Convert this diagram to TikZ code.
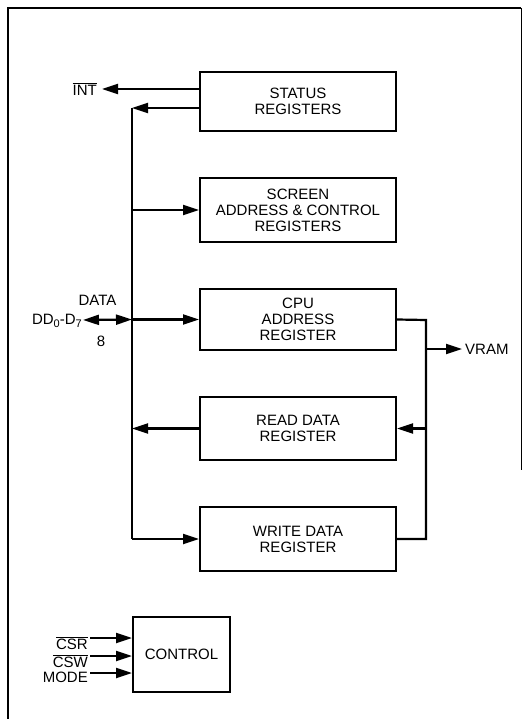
\documentclass[tikz,border=0pt]{standalone}
\usepackage{fontspec}
\setmainfont{Liberation Sans}
\usetikzlibrary{arrows.meta}
\begin{document}
\begin{tikzpicture}[x=1pt,y=-1pt,
  txt/.style={font=\fontsize{15}{16}\selectfont, inner sep=0pt, align=center},
  reg/.style={draw, line width=2pt, txt, minimum width=196pt},
  wire/.style={line width=2.2pt},
  tip/.tip={Triangle[length=16pt,width=10pt]},
  arr/.style={wire, -tip},
  darr/.style={wire, tip-tip}]
\useasboundingbox (0,0) rectangle (523,719);
% frame
\draw[line width=2.4pt] (8,719) -- (8,8) -- (521,8);
\draw[line width=1pt] (521,8) -- (521,470);
% registers
\node[reg, minimum height=59pt] (status) at (298,101.5) {STATUS\\REGISTERS};
\node[reg, minimum height=64pt] (screen) at (298,210) {SCREEN\\ADDRESS \& CONTROL\\REGISTERS};
\node[reg, minimum height=61pt] (cpu) at (298,319.5) {CPU\\ADDRESS\\REGISTER};
\node[reg, minimum height=63pt] (read) at (298,428.5) {READ DATA\\REGISTER};
\node[reg, minimum height=64pt] (write) at (298,539) {WRITE DATA\\REGISTER};
\node[draw, line width=2pt, txt, minimum width=97pt, minimum height=75pt] (control) at (181.5,654.5) {CONTROL};
% labels
\node[txt, anchor=east] (intl) at (97,89) {$\overline{\mbox{INT}}$};
\node[txt] (datal) at (97.5,300) {DATA};
\node[txt, anchor=east] (ddl) at (82,321) {DD\raisebox{-3pt}{\fontsize{11}{12}\selectfont 0}-D\raisebox{-3pt}{\fontsize{11}{12}\selectfont 7}};
\node[txt] (eight) at (101,341) {8};
\node[txt, anchor=west] (vram) at (465,349) {VRAM};
\node[txt, anchor=east] (csr) at (88,643) {$\overline{\mbox{CSR}}$};
\node[txt, anchor=east] (csw) at (88,661) {$\overline{\mbox{CSW}}$};
\node[txt, anchor=east] (mode) at (88,677) {MODE};
% bus coordinates
\coordinate (bt) at (132,108);
\coordinate (bb) at (132,539);
\coordinate (inttip) at (102,89);
\coordinate (rt) at (426,320);
\coordinate (rb) at (426,539);
\coordinate (vtip) at (462,349);
% left bus
\draw[arr] (status.west |- bt) -- (bt);
\draw[arr] (status.west |- inttip) -- (inttip);
\draw[wire] (bt) -- (bb);
\draw[arr] (bb) -- (write.west);
\draw[arr] (bt |- screen.west) -- (screen.west);
\draw[arr] (bt |- cpu.west) -- (cpu.west);
\draw[arr] (read.west) -- (bt |- read.west);
\draw[darr] (83,320) -- (bt |- cpu.west);
% right bus
\draw[wire] (cpu.east) -- (rt) -- (rb) -- (write.east);
\draw[arr] (rt |- vtip) -- (vtip);
\draw[arr] (rt |- read.east) -- (read.east);
% control inputs
\draw[arr] (90,638) -- (control.west |- 0,638);
\draw[arr] (90,656) -- (control.west |- 0,656);
\draw[arr] (90,673) -- (control.west |- 0,673);
\end{tikzpicture}
\end{document}
